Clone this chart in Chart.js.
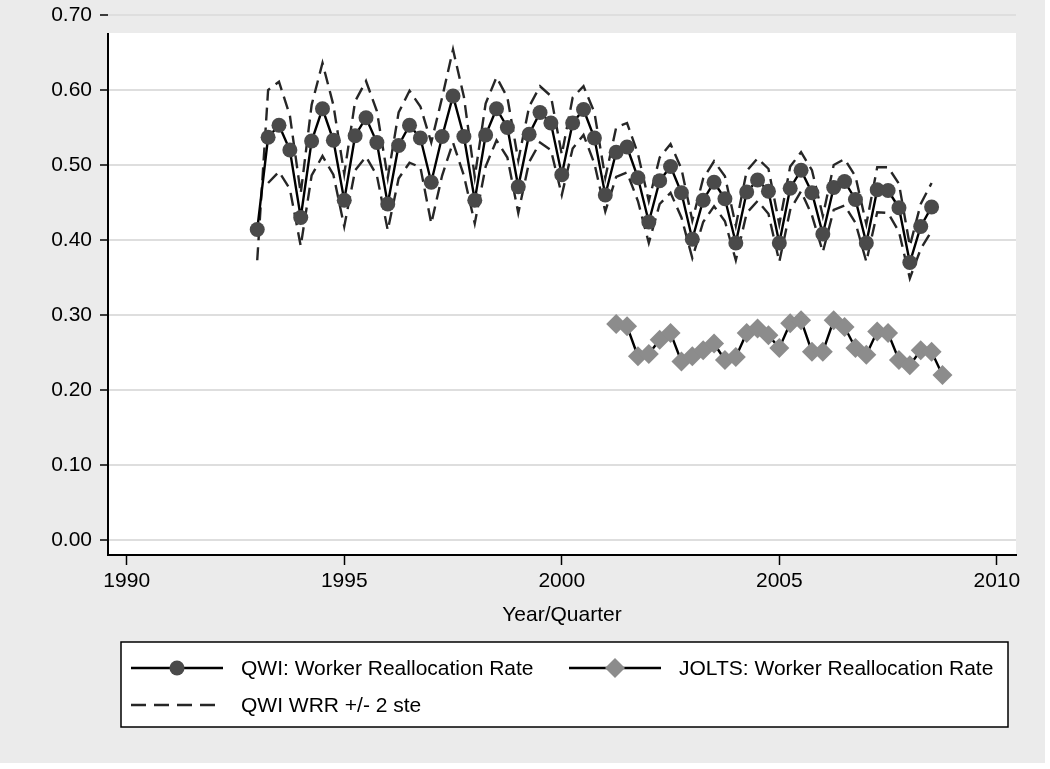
<!DOCTYPE html>
<html>
<head>
<meta charset="utf-8">
<script src="https://cdn.jsdelivr.net/npm/chart.js@4.4.1/dist/chart.umd.min.js"></script>
<style>
  html, body { margin: 0; padding: 0; background: #fff; }
  #wrap { width: 1050px; height: 769px; }
</style>
</head>
<body>
<div id="wrap"><canvas id="wrr" width="1050" height="769"></canvas></div>
<script>
// quarterly periods, first and last of each series
const qwiPeriod = ['1993q1', '2008q3'];
const joltsPeriod = ['2001q2', '2008q4'];

// QWI worker reallocation rate and its +/- 2 ste band
const qwiRate = [
  0.414, 0.537, 0.553, 0.520,  0.430, 0.532, 0.575, 0.533,
  0.453, 0.539, 0.563, 0.530,  0.448, 0.526, 0.553, 0.536,
  0.477, 0.538, 0.592, 0.538,  0.453, 0.540, 0.575, 0.550,
  0.471, 0.541, 0.570, 0.556,  0.487, 0.556, 0.574, 0.536,
  0.460, 0.517, 0.524, 0.483,  0.424, 0.479, 0.498, 0.463,
  0.401, 0.453, 0.477, 0.455,  0.396, 0.464, 0.480, 0.465,
  0.396, 0.469, 0.493, 0.463,  0.408, 0.470, 0.478, 0.454,
  0.396, 0.467, 0.466, 0.443,  0.370, 0.418, 0.444
];
const qwiUpper = [
  0.373, 0.600, 0.611, 0.566,  0.462, 0.580, 0.636, 0.580,
  0.488, 0.585, 0.612, 0.572,  0.483, 0.570, 0.599, 0.578,
  0.530, 0.590, 0.654, 0.591,  0.484, 0.582, 0.617, 0.590,
  0.506, 0.578, 0.605, 0.592,  0.514, 0.590, 0.605, 0.570,
  0.483, 0.550, 0.556, 0.515,  0.452, 0.510, 0.528, 0.495,
  0.426, 0.482, 0.505, 0.485,  0.419, 0.492, 0.509, 0.495,
  0.421, 0.498, 0.517, 0.493,  0.432, 0.500, 0.508, 0.485,
  0.421, 0.497, 0.497, 0.475,  0.392, 0.448, 0.476
];
const qwiLower = [
  null,  0.476, 0.491, 0.468,  0.392, 0.486, 0.512, 0.487,
  0.418, 0.493, 0.511, 0.486,  0.413, 0.482, 0.503, 0.497,
  0.422, 0.486, 0.530, 0.486,  0.422, 0.498, 0.533, 0.510,
  0.436, 0.504, 0.530, 0.520,  0.460, 0.522, 0.540, 0.502,
  0.438, 0.484, 0.490, 0.452,  0.396, 0.448, 0.463, 0.430,
  0.376, 0.424, 0.445, 0.425,  0.373, 0.436, 0.452, 0.435,
  0.371, 0.440, 0.465, 0.433,  0.384, 0.440, 0.446, 0.423,
  0.371, 0.437, 0.436, 0.411,  0.349, 0.388, 0.412
];

// JOLTS worker reallocation rate
const joltsRate = [
  0.288, 0.285, 0.245, 0.248, 0.267, 0.276, 0.238, 0.245,
  0.253, 0.262, 0.240, 0.244, 0.276, 0.282, 0.273, 0.256,
  0.289, 0.293, 0.251, 0.251, 0.293, 0.284, 0.256, 0.247,
  0.278, 0.276, 0.240, 0.233, 0.253, 0.251, 0.220
];

// axis ticks
const yTicks = [0, 0.1, 0.2, 0.3, 0.4, 0.5, 0.6, 0.7];
const xTicks = [1990, 1995, 2000, 2005, 2010];

// '1993q1' -> 1993.0, '1993q2' -> 1993.25 ...
function quarterValue(q) {
  const [y, n] = q.split('q');
  return Number(y) + (Number(n) - 1) / 4;
}
function quarters(period) {
  const out = [];
  for (let t = quarterValue(period[0]); t <= quarterValue(period[1]) + 1e-9; t += 0.25) out.push(t);
  return out;
}
function points(period, values) {
  const xs = quarters(period);
  return values.map((v, i) => ({ x: xs[i], y: v }));
}

const FONT = "'Liberation Sans', Arial, Helvetica, sans-serif";
Chart.defaults.font.family = FONT;
Chart.defaults.font.size = 21;
Chart.defaults.color = '#000';

// gray page, white plot region (top of plot is cut off in the original)
const backdrop = {
  id: 'backdrop',
  beforeDraw(chart) {
    const { ctx, chartArea: a } = chart;
    const y = chart.scales.y;
    ctx.save();
    ctx.fillStyle = '#fff';
    ctx.fillRect(0, 0, chart.width, chart.height);
    ctx.fillStyle = '#ebebeb';
    ctx.fillRect(0, 0, 1045, 763);
    const top = y.getPixelForValue(0.676);
    ctx.fillStyle = '#fff';
    ctx.fillRect(a.left, top, a.right - a.left, a.bottom - top);
    ctx.restore();
  },
  beforeDatasetsDraw(chart) {
    const { ctx, chartArea: a } = chart;
    const top = chart.scales.y.getPixelForValue(0.676);
    ctx.save();
    ctx.strokeStyle = '#000';
    ctx.lineWidth = 2;
    ctx.beginPath();
    ctx.moveTo(a.left, top);
    ctx.lineTo(a.left, a.bottom + 1);
    ctx.stroke();
    ctx.restore();
  }
};

// boxed legend below the axis title
const boxLegend = {
  id: 'boxLegend',
  afterDraw(chart) {
    const { ctx } = chart;
    const box = { left: 121, top: 642, right: 1008, bottom: 727 };
    const items = [
      { ds: 0, x: 131, y: 668 },
      { ds: 1, x: 569, y: 668 },
      { ds: 2, x: 131, y: 705 }
    ];
    ctx.save();
    ctx.fillStyle = '#fff';
    ctx.fillRect(box.left, box.top, box.right - box.left, box.bottom - box.top);
    ctx.strokeStyle = '#000';
    ctx.lineWidth = 1.5;
    ctx.strokeRect(box.left, box.top, box.right - box.left, box.bottom - box.top);

    items.forEach(it => {
      const ds = chart.data.datasets[it.ds];
      ctx.save();
      ctx.strokeStyle = ds.borderColor;
      ctx.lineWidth = ds.borderWidth;
      ctx.setLineDash(ds.borderDash ? [15, 8] : []);
      ctx.beginPath();
      ctx.moveTo(it.x, it.y);
      ctx.lineTo(it.x + 92, it.y);
      ctx.stroke();
      ctx.restore();
      if (ds.pointRadius > 0) {
        ctx.fillStyle = ds.pointBackgroundColor;
        ctx.strokeStyle = ds.pointBorderColor;
        Chart.helpers.drawPoint(ctx, {
          pointStyle: ds.pointStyle, rotation: 0,
          radius: ds.pointRadius, borderWidth: 0
        }, it.x + 46, it.y);
      }
      ctx.fillStyle = '#000';
      ctx.font = '21px ' + FONT;
      ctx.textBaseline = 'middle';
      ctx.textAlign = 'left';
      ctx.fillText(ds.label, it.x + 110, it.y + 1);
    });
    ctx.restore();
  }
};

new Chart(document.getElementById('wrr'), {
  type: 'line',
  data: {
    datasets: [
      {
        label: 'QWI: Worker Reallocation Rate',
        data: points(qwiPeriod, qwiRate),
        borderColor: '#000',
        borderWidth: 2.4,
        pointStyle: 'circle',
        pointRadius: 7.5,
        pointBackgroundColor: '#4a4a4a',
        pointBorderColor: '#4a4a4a',
        pointBorderWidth: 0,
        order: 1
      },
      {
        label: 'JOLTS: Worker Reallocation Rate',
        data: points(joltsPeriod, joltsRate),
        borderColor: '#000',
        borderWidth: 2.4,
        pointStyle: 'rectRot',
        pointRadius: 10,
        pointBackgroundColor: '#8c8c8c',
        pointBorderColor: '#8c8c8c',
        pointBorderWidth: 0,
        order: 1
      },
      {
        label: 'QWI WRR +/- 2 ste',
        data: points(qwiPeriod, qwiUpper),
        borderColor: '#262626',
        borderWidth: 2.4,
        borderDash: [13, 7],
        pointRadius: 0,
        spanGaps: false,
        order: 2
      },
      {
        label: 'lower',
        data: points(qwiPeriod, qwiLower),
        borderColor: '#262626',
        borderWidth: 2.4,
        borderDash: [13, 7],
        pointRadius: 0,
        spanGaps: false,
        order: 2
      }
    ]
  },
  options: {
    responsive: false,
    animation: false,
    devicePixelRatio: 1,
    layout: { padding: { left: 0, right: 34, top: 15, bottom: 129 } },
    elements: { line: { tension: 0 } },
    scales: {
      x: {
        type: 'linear',
        min: 1989.57,
        max: 2010.44,
        afterFit: s => { s.height = 85; s.paddingLeft = 0; s.paddingRight = 0; },
        afterBuildTicks: s => { s.ticks = xTicks.map(v => ({ value: v })); },
        ticks: {
          padding: 4,
          maxRotation: 0,
          callback: v => String(v),
          font: { size: 21 }
        },
        grid: {
          drawOnChartArea: false,
          tickColor: '#000',
          tickLength: 10,
          tickWidth: 1.5
        },
        border: { display: true, color: '#000', width: 2 },
        title: {
          display: true,
          text: 'Year/Quarter',
          font: { size: 21 },
          padding: { top: 0, bottom: 12 }
        }
      },
      y: {
        min: -0.02,
        max: 0.70,
        afterFit: s => { s.width = 108; s.paddingTop = 0; s.paddingBottom = 0; },
        afterBuildTicks: s => { s.ticks = yTicks.map(v => ({ value: v })); },
        ticks: {
          padding: 8,
          callback: v => v.toFixed(2),
          font: { size: 21 }
        },
        grid: {
          color: '#dedede',
          lineWidth: 2,
          tickColor: '#000',
          tickLength: 8,
          tickWidth: 1.5
        },
        border: { display: false }
      }
    },
    plugins: {
      legend: { display: false },
      tooltip: { enabled: false }
    }
  },
  plugins: [backdrop, boxLegend]
});
</script>
</body>
</html>
